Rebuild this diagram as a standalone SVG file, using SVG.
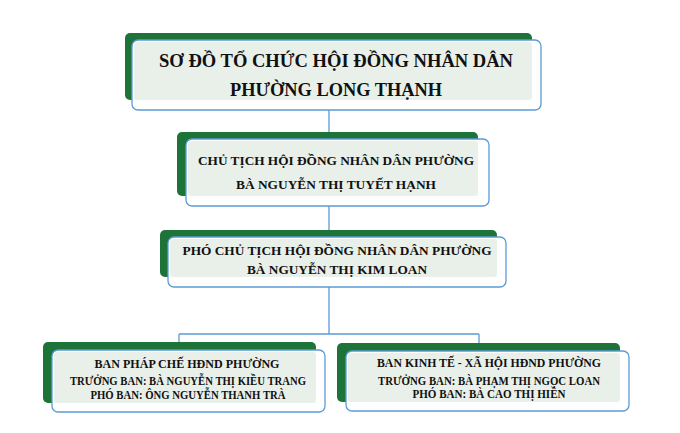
<svg xmlns="http://www.w3.org/2000/svg" width="680" height="433" viewBox="0 0 680 433">
<style>
.g{fill:#1e7438}
.o{fill:#ffffff;stroke:#5b9bd5;stroke-width:1.3}
.l{fill:#e9f0ea}
.t{font-family:"Liberation Serif","Times New Roman",serif;font-weight:bold;fill:#111;text-anchor:middle}
.c{fill:none;stroke:#5b9bd5;stroke-width:1.3}
</style>
<rect width="680" height="433" fill="#ffffff"/>
<g id="connectors">
<path class="c" d="M329 110V140M329 206V231M329 287V334M179 334H479M179 334V343M479 334V343"/>
</g>
<g id="title">
<rect class="g" x="125" y="33" width="407" height="67" rx="5"/>
<rect class="o" x="132" y="40" width="409" height="70" rx="6"/>
<rect class="l" x="134" y="42" width="398" height="58" rx="3"/>
<text class="t" x="336" y="67" font-size="19" textLength="354" lengthAdjust="spacingAndGlyphs">SƠ ĐỒ TỔ CHỨC HỘI ĐỒNG NHÂN DÂN</text>
<text class="t" x="336" y="96" font-size="19" textLength="212" lengthAdjust="spacingAndGlyphs">PHƯỜNG LONG THẠNH</text>
</g>
<g id="chairman">
<rect class="g" x="177" y="132" width="301" height="64" rx="5"/>
<rect class="o" x="186" y="139" width="303" height="67" rx="6"/>
<rect class="l" x="188" y="141" width="290" height="55" rx="3"/>
<text class="t" x="336" y="165" font-size="13.5" textLength="276" lengthAdjust="spacingAndGlyphs">CHỦ TỊCH HỘI ĐỒNG NHÂN DÂN PHƯỜNG</text>
<text class="t" x="336" y="189" font-size="13.5" textLength="200" lengthAdjust="spacingAndGlyphs">BÀ NGUYỄN THỊ TUYẾT HẠNH</text>
</g>
<g id="vice-chairman">
<rect class="g" x="160" y="230" width="337" height="47" rx="5"/>
<rect class="o" x="168" y="237" width="338" height="50" rx="6"/>
<rect class="l" x="170" y="239" width="327" height="38" rx="3"/>
<text class="t" x="337" y="255" font-size="13.5" textLength="309" lengthAdjust="spacingAndGlyphs">PHÓ CHỦ TỊCH HỘI ĐỒNG NHÂN DÂN PHƯỜNG</text>
<text class="t" x="337" y="274" font-size="13.5" textLength="180" lengthAdjust="spacingAndGlyphs">BÀ NGUYỄN THỊ KIM LOAN</text>
</g>
<g id="legal-committee">
<rect class="g" x="43" y="342" width="273" height="61" rx="5"/>
<rect class="o" x="52" y="350" width="273" height="62" rx="6"/>
<rect class="l" x="54" y="352" width="262" height="51" rx="3"/>
<text class="t" x="187" y="368" font-size="12.5" textLength="185" lengthAdjust="spacingAndGlyphs">BAN PHÁP CHẾ HĐND PHƯỜNG</text>
<text class="t" x="188" y="385" font-size="11.5" textLength="236" lengthAdjust="spacingAndGlyphs">TRƯỞNG BAN: BÀ NGUYỄN THỊ KIỀU TRANG</text>
<text class="t" x="188" y="399" font-size="11.5" textLength="195" lengthAdjust="spacingAndGlyphs">PHÓ BAN: ÔNG NGUYỄN THANH TRÀ</text>
</g>
<g id="economic-committee">
<rect class="g" x="337" y="343" width="283" height="59" rx="5"/>
<rect class="o" x="346" y="351" width="283" height="60" rx="6"/>
<rect class="l" x="348" y="353" width="272" height="49" rx="3"/>
<text class="t" x="489" y="367" font-size="12.5" textLength="224" lengthAdjust="spacingAndGlyphs">BAN KINH TẾ - XÃ HỘI HĐND PHƯỜNG</text>
<text class="t" x="489" y="385" font-size="11.5" textLength="222" lengthAdjust="spacingAndGlyphs">TRƯỞNG BAN: BÀ PHẠM THỊ NGỌC LOAN</text>
<text class="t" x="489" y="398" font-size="11.5" textLength="153" lengthAdjust="spacingAndGlyphs">PHÓ BAN: BÀ CAO THỊ HIỀN</text>
</g>
</svg>
